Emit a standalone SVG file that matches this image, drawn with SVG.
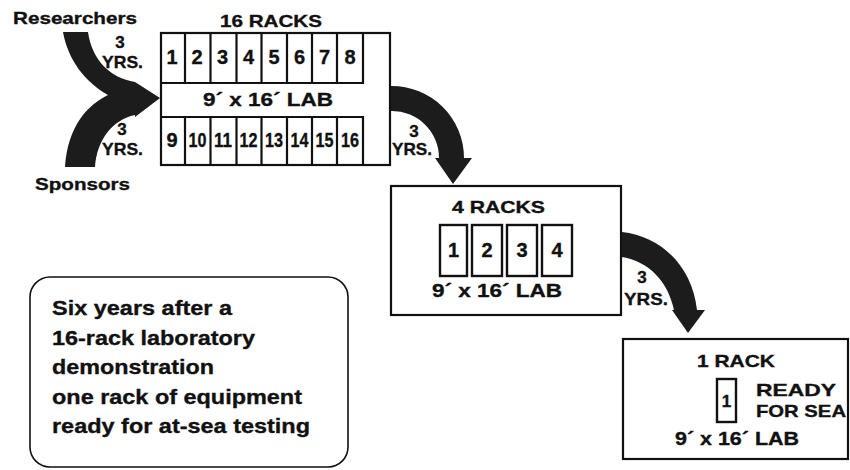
<svg xmlns="http://www.w3.org/2000/svg" width="850" height="470" viewBox="0 0 850 470">
  <defs>
    <style>
      .t { font-family: "Liberation Sans", Arial, Helvetica, sans-serif; font-weight: bold; fill: #111; stroke: #111; stroke-width: 0.35; }
      .h { font-size: 17px; }
      .n { font-size: 20px; text-anchor: middle; }
      .lab { font-size: 18px; }
      .note { font-size: 21px; }
      .box { fill: #fff; stroke: #111; stroke-width: 2.2; }
      .ln { fill: none; stroke: #111; stroke-width: 2.2; }
      .cell { fill: #fff; stroke: #111; stroke-width: 2.4; }
      .arrow { fill: #1c1c1c; }
    </style>
  </defs>

  <rect width="850" height="470" fill="#fff"/>

  <!-- rooms and racks -->
  <g id="lab16">
    <rect class="box" x="161" y="33" width="229" height="132"/>
    <!-- upper and lower rack rows, open to the aisle and the right-hand bay -->
    <path class="ln" d="M161 83 H363 V33 M161 117 H363 V165"/>
    <path class="ln" d="M185 33 V83 M210.5 33 V83 M236.5 33 V83 M261.5 33 V83 M287 33 V83 M312 33 V83 M337 33 V83
                        M185 117 V165 M210.5 117 V165 M236.5 117 V165 M261.5 117 V165 M287 117 V165 M312 117 V165 M337 117 V165"/>
    <text class="t h" x="220" y="27" textLength="102" lengthAdjust="spacingAndGlyphs">16 RACKS</text>
    <g class="t n">
      <text x="172" y="64">1</text>
      <text x="197" y="64">2</text>
      <text x="222.5" y="64">3</text>
      <text x="248.5" y="64">4</text>
      <text x="274" y="64">5</text>
      <text x="299.5" y="64">6</text>
      <text x="324.5" y="64">7</text>
      <text x="350" y="64">8</text>
      <text x="172" y="147">9</text>
      <text x="197.5" y="147" textLength="18" lengthAdjust="spacingAndGlyphs">10</text>
      <text x="223" y="147" textLength="18" lengthAdjust="spacingAndGlyphs">11</text>
      <text x="248.5" y="147" textLength="18" lengthAdjust="spacingAndGlyphs">12</text>
      <text x="274" y="147" textLength="18" lengthAdjust="spacingAndGlyphs">13</text>
      <text x="299.5" y="147" textLength="18" lengthAdjust="spacingAndGlyphs">14</text>
      <text x="324.5" y="147" textLength="18" lengthAdjust="spacingAndGlyphs">15</text>
      <text x="350" y="147" textLength="18" lengthAdjust="spacingAndGlyphs">16</text>
    </g>
    <text class="t lab" x="203" y="106" textLength="130" lengthAdjust="spacingAndGlyphs">9´ x 16´ LAB</text>
  </g>

  <g id="lab4">
    <rect class="box" x="391" y="186" width="230" height="129"/>
    <text class="t h" x="452" y="213" textLength="93" lengthAdjust="spacingAndGlyphs">4 RACKS</text>
    <rect class="cell" x="440" y="225" width="27" height="51"/>
    <rect class="cell" x="472" y="225" width="30" height="51"/>
    <rect class="cell" x="507" y="225" width="30" height="51"/>
    <rect class="cell" x="542" y="225" width="30" height="51"/>
    <g class="t n">
      <text x="453.5" y="257">1</text>
      <text x="487" y="257">2</text>
      <text x="522" y="257">3</text>
      <text x="557" y="257">4</text>
    </g>
    <text class="t lab" x="432" y="297" textLength="130" lengthAdjust="spacingAndGlyphs">9´ x 16´ LAB</text>
  </g>

  <g id="lab1">
    <rect class="box" x="623" y="339" width="225" height="120"/>
    <text class="t h" x="697" y="367" textLength="78" lengthAdjust="spacingAndGlyphs">1 RACK</text>
    <rect class="cell" x="717" y="379" width="19" height="43"/>
    <text class="t n" x="726.5" y="407" style="font-size:17px">1</text>
    <text class="t h" x="756" y="396" textLength="80" lengthAdjust="spacingAndGlyphs">READY</text>
    <text class="t h" x="756" y="417" textLength="90" lengthAdjust="spacingAndGlyphs">FOR SEA</text>
    <text class="t lab" x="675" y="445" textLength="124" lengthAdjust="spacingAndGlyphs">9´ x 16´ LAB</text>
  </g>

  <g id="summary">
    <rect x="30" y="277" width="318" height="190" rx="20" ry="20" fill="#fff" stroke="#111" stroke-width="1.6"/>
    <text class="t note" x="52" y="315" textLength="180" lengthAdjust="spacingAndGlyphs">Six years after a</text>
    <text class="t note" x="52" y="344.5" textLength="203" lengthAdjust="spacingAndGlyphs">16-rack laboratory</text>
    <text class="t note" x="52" y="374" textLength="162" lengthAdjust="spacingAndGlyphs">demonstration</text>
    <text class="t note" x="52" y="403.5" textLength="250" lengthAdjust="spacingAndGlyphs">one rack of equipment</text>
    <text class="t note" x="52" y="433" textLength="258" lengthAdjust="spacingAndGlyphs">ready for at-sea testing</text>
  </g>

  <g id="researchers">
    <text class="t h" x="13" y="24" textLength="124" lengthAdjust="spacingAndGlyphs">Researchers</text>
  </g>
  <g id="sponsors">
    <text class="t h" x="35" y="190" textLength="95" lengthAdjust="spacingAndGlyphs">Sponsors</text>
  </g>

  <!-- curved time arrows with their durations -->
  <g id="connectors">
    <!-- researchers and sponsors merging into the lab -->
    <path class="arrow" d="M63 32 C68 60 85 82 108 95 C88 105 68 125 65 167 L95 167 C97 140 112 120 135 115 L135 117 L160 98 L135 82 C110 78 92 60 88 32 Z"/>
    <text class="t h" x="120" y="48" text-anchor="middle">3</text>
    <text class="t h" x="102" y="68" textLength="41" lengthAdjust="spacingAndGlyphs">YRS.</text>
    <text class="t h" x="122" y="135" text-anchor="middle">3</text>
    <text class="t h" x="102" y="155" textLength="41" lengthAdjust="spacingAndGlyphs">YRS.</text>

    <!-- 16 racks to 4 racks -->
    <path class="arrow" d="M391 86 A72 72 0 0 1 464 158 L472 158 L453 184 L435 158 L439 158 A47 47 0 0 0 391 111 Z"/>
    <text class="t h" x="414" y="137" text-anchor="middle">3</text>
    <text class="t h" x="392" y="155" textLength="40" lengthAdjust="spacingAndGlyphs">YRS.</text>

    <!-- 4 racks to 1 rack -->
    <path class="arrow" d="M622 232 C660 236 692 265 697 310 L705 310 L688 333 L672 310 L674 310 C668 282 650 262 622 257 Z"/>
    <text class="t h" x="642" y="283" text-anchor="middle">3</text>
    <text class="t h" x="624" y="305" textLength="44" lengthAdjust="spacingAndGlyphs">YRS.</text>
  </g>
</svg>
